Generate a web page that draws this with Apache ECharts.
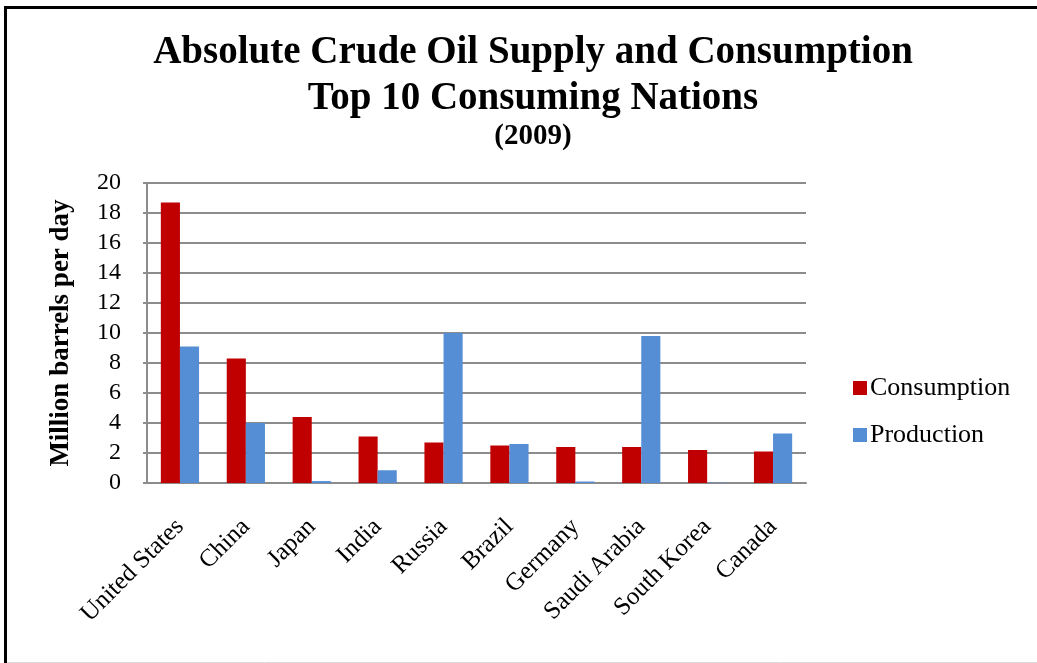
<!DOCTYPE html>
<html>
<head>
<meta charset="utf-8">
<script src="https://cdn.jsdelivr.net/npm/echarts@6/dist/echarts.min.js"></script>
<style>
html,body{margin:0;padding:0;background:#fff;}
#chart{width:1037px;height:663px;}
</style>
</head>
<body>
<div id="chart"></div>
<script>
const categories = ["United States","China","Japan","India","Russia","Brazil","Germany","Saudi Arabia","South Korea","Canada"];
const consumption = [18.7, 8.3, 4.4, 3.1, 2.7, 2.5, 2.4, 2.4, 2.2, 2.1];
const production = [9.1, 4.0, 0.13, 0.85, 10.0, 2.6, 0.1, 9.8, 0.02, 3.3];
const seriesNames = ["Consumption","Production"];
const yTicks = {min:0, max:20, interval:2};

const serif = '"Liberation Serif", "DejaVu Serif", serif';
const chart = echarts.init(document.getElementById('chart'), null, {renderer:'canvas'});
chart.setOption({
  backgroundColor:'#fff',
  animation:false,
  title:{
    text:'Absolute Crude Oil Supply and Consumption\nTop 10 Consuming Nations',
    subtext:'(2009)',
    left:528, textAlign:'center', top:25,
    textStyle:{fontFamily:serif, fontWeight:'bold', fontSize:39, lineHeight:46, color:'#000'},
    subtextStyle:{fontFamily:serif, fontWeight:'bold', fontSize:29, color:'#000'},
    itemGap:0
  },
  legend:{
    orient:'vertical', left:848, top:370,
    itemWidth:14, itemHeight:14, itemGap:21,
    icon:'rect',
    textStyle:{fontFamily:serif, fontSize:26, color:'#000', padding:[0,0,0,-2]},
    data:seriesNames
  },
  grid:{left:147, right:231, top:183, bottom:180, containLabel:false},
  xAxis:{
    type:'category', data:categories,
    axisLine:{lineStyle:{color:'#8c8c8c', width:2}},
    axisTick:{show:false},
    axisLabel:{rotate:45, interval:0, fontFamily:serif, fontSize:25, color:'#000', margin:40}
  },
  yAxis:{
    type:'value', min:yTicks.min, max:yTicks.max, interval:yTicks.interval,
    name:'Million barrels per day', nameLocation:'middle', nameGap:72, nameRotate:90,
    nameTextStyle:{fontFamily:serif, fontWeight:'bold', fontSize:27, color:'#000'},
    axisLine:{show:true, lineStyle:{color:'#8c8c8c', width:2}},
    axisTick:{show:true, length:4, lineStyle:{color:'#8c8c8c', width:2}},
    splitLine:{lineStyle:{color:'#8c8c8c', width:2}},
    axisLabel:{fontFamily:serif, fontSize:24, color:'#000', margin:26}
  },
  series:[
    {name:seriesNames[0], type:'bar', data:consumption, itemStyle:{color:'#C00000'}, barGap:'0%', barCategoryGap:'42%'},
    {name:seriesNames[1], type:'bar', data:production, itemStyle:{color:'#558ED5'}, barGap:'0%', barCategoryGap:'42%'}
  ],
  graphic:[
    {type:'line', shape:{x1:5.5,y1:7,x2:5.5,y2:663}, style:{stroke:'#000', lineWidth:3}},
    {type:'line', shape:{x1:4,y1:7.5,x2:1037,y2:7.5}, style:{stroke:'#000', lineWidth:3}},
    {type:'line', shape:{x1:7,y1:662.5,x2:1037,y2:662.5}, style:{stroke:'#d9d9d9', lineWidth:1}}
  ]
});
</script>
</body>
</html>
